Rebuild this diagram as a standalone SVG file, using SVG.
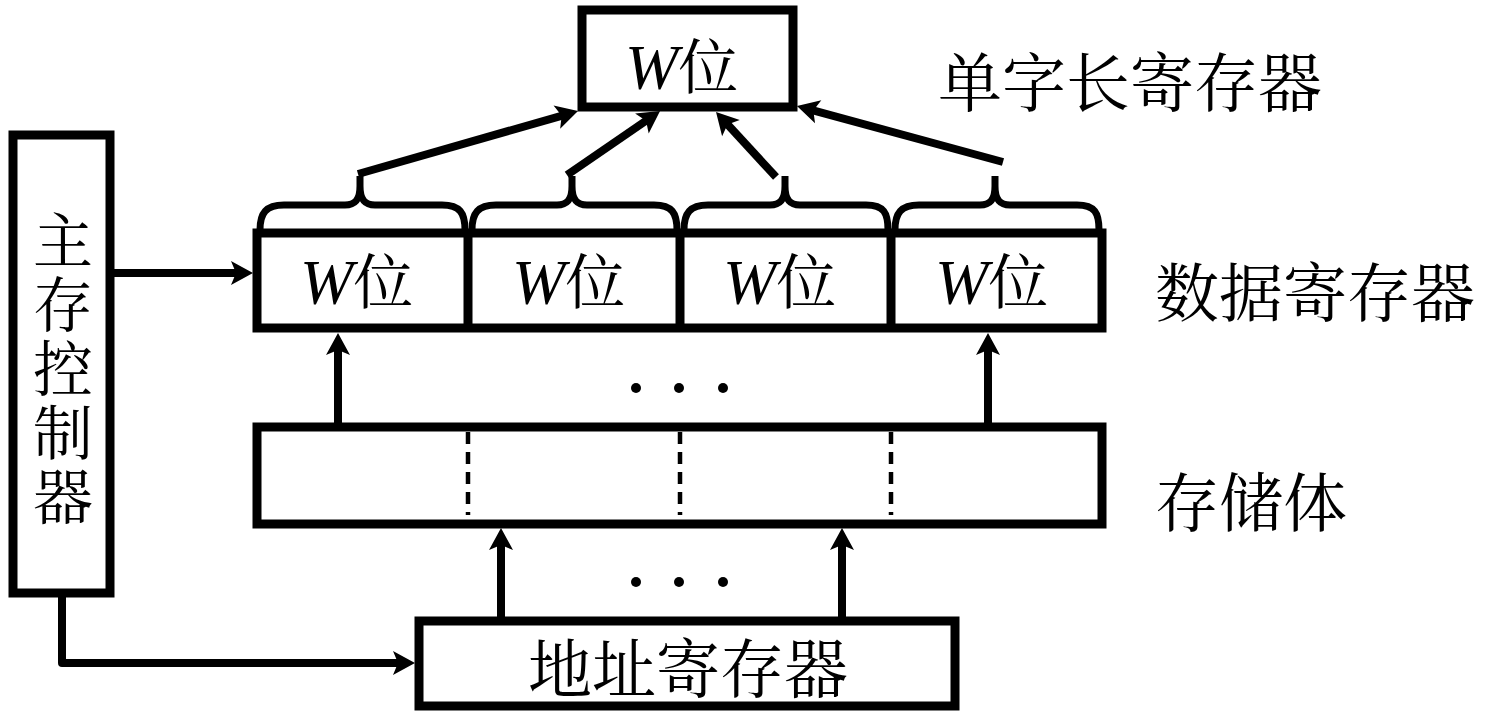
<svg xmlns="http://www.w3.org/2000/svg" width="1485" height="711" viewBox="0 0 1485 711">
<style>
.box{fill:#fff;stroke:#000;stroke-width:9}
.conn{fill:none;stroke:#000;stroke-width:8}
.brace{fill:none;stroke:#000;stroke-width:7;stroke-linejoin:round}
.dash{stroke:#000;stroke-width:4.5;stroke-dasharray:12 8}
.cjk{font-family:"Noto Serif CJK SC","Noto Sans CJK SC",sans-serif;fill:#000}
.lbl{font-size:64px;dominant-baseline:central}
.w{font-family:"Liberation Serif",serif;font-style:italic;font-size:64px}
.wei{font-family:"Noto Serif CJK SC","Noto Sans CJK SC",sans-serif;font-size:60px}
.dot{fill:#000}
</style>
<defs>
<marker id="ah" markerUnits="userSpaceOnUse" markerWidth="24" markerHeight="26" refX="12" refY="12" orient="auto" overflow="visible">
<path d="M0,0 L22,12 L0,24 L5,12 Z" fill="#000"/>
</marker>
</defs>

<g id="word-register">
<rect class="box" x="582" y="10" width="211" height="97"/>
<text x="625" y="89"><tspan class="w">W</tspan><tspan class="wei">位</tspan></text>
</g>
<text id="label-word" class="cjk lbl" x="938" y="78">单字长寄存器</text>

<g id="controller">
<rect class="box" x="13" y="135" width="97" height="458"/>
<text class="cjk" x="63" y="210" font-size="60" writing-mode="vertical-rl" letter-spacing="4">主存控制器</text>
</g>

<g id="data-register">
<rect class="box" x="257" y="233" width="845" height="95"/>
<line x1="468" y1="233" x2="468" y2="328" stroke="#000" stroke-width="9"/>
<line x1="680" y1="233" x2="680" y2="328" stroke="#000" stroke-width="9"/>
<line x1="891" y1="233" x2="891" y2="328" stroke="#000" stroke-width="9"/>
<text x="300" y="304"><tspan class="w">W</tspan><tspan class="wei">位</tspan></text>
<text x="512" y="304"><tspan class="w">W</tspan><tspan class="wei">位</tspan></text>
<text x="723" y="304"><tspan class="w">W</tspan><tspan class="wei">位</tspan></text>
<text x="935" y="304"><tspan class="w">W</tspan><tspan class="wei">位</tspan></text>
</g>
<text id="label-data" class="cjk lbl" x="1155" y="288">数据寄存器</text>

<g id="braces">
<path class="brace" d="M260,230 C260,213 266,205 284,205 L345,205 C355,205 360,200 360,186 L360,176 M360,186 C360,200 365,205 375,205 L442,205 C460,205 465,213 465,230"/>
<path class="brace" d="M472,230 C472,213 478,205 496,205 L557,205 C567,205 572,200 572,186 L572,176 M572,186 C572,200 577,205 587,205 L654,205 C672,205 677,213 677,230"/>
<path class="brace" d="M684,230 C684,213 690,205 708,205 L770,205 C780,205 785,200 785,186 L785,176 M785,186 C785,200 790,205 800,205 L866,205 C884,205 888,213 888,230"/>
<path class="brace" d="M895,230 C895,213 901,205 919,205 L980,205 C990,205 995,200 995,186 L995,176 M995,186 C995,200 1000,205 1010,205 L1077,205 C1095,205 1099,213 1099,230"/>
</g>

<g id="storage">
<rect class="box" x="257" y="427" width="845" height="97"/>
<line class="dash" x1="468" y1="432" x2="468" y2="515"/>
<line class="dash" x1="680" y1="432" x2="680" y2="515"/>
<line class="dash" x1="891" y1="432" x2="891" y2="515"/>
</g>
<text id="label-storage" class="cjk lbl" x="1155" y="498">存储体</text>

<g id="address-register">
<rect class="box" x="419" y="621" width="536" height="85"/>
<text class="cjk" x="688" y="664" font-size="64" text-anchor="middle" dominant-baseline="central">地址寄存器</text>
</g>

<g id="ellipses">
<circle class="dot" cx="636" cy="388" r="5"/>
<circle class="dot" cx="679" cy="388" r="5"/>
<circle class="dot" cx="723" cy="388" r="5"/>
<circle class="dot" cx="636" cy="582" r="5"/>
<circle class="dot" cx="679" cy="582" r="5"/>
<circle class="dot" cx="723" cy="582" r="5"/>
</g>

<g id="connectors">
<line class="conn" x1="358" y1="174" x2="568.4" y2="113.8" marker-end="url(#ah)"/>
<line class="conn" x1="567" y1="175" x2="651.8" y2="116.7" marker-end="url(#ah)"/>
<line class="conn" x1="776" y1="177" x2="722.8" y2="119.3" marker-end="url(#ah)"/>
<line class="conn" x1="1003" y1="162" x2="806.6" y2="108.6" marker-end="url(#ah)"/>
<line class="conn" x1="114" y1="273" x2="243" y2="273" marker-end="url(#ah)"/>
<path class="conn" d="M62,597 L62,663 L405,663" stroke-linejoin="round" marker-end="url(#ah)"/>
<line class="conn" x1="338" y1="423" x2="338" y2="343" marker-end="url(#ah)"/>
<line class="conn" x1="988" y1="423" x2="988" y2="343" marker-end="url(#ah)"/>
<line class="conn" x1="501" y1="617" x2="501" y2="538" marker-end="url(#ah)"/>
<line class="conn" x1="842" y1="617" x2="842" y2="538" marker-end="url(#ah)"/>
</g>
</svg>
